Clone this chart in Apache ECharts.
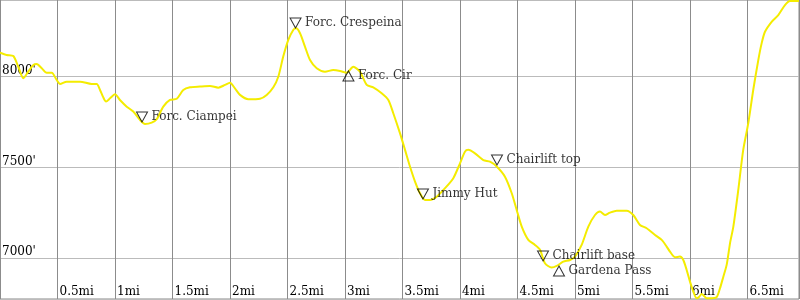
<!DOCTYPE html>
<html>
<head>
<meta charset="utf-8">
<script src="https://cdn.jsdelivr.net/npm/echarts@6/dist/echarts.min.js"></script>
<style>html,body{margin:0;padding:0;background:#fff}#c{width:800px;height:300px}</style>
</head>
<body>
<div id="c"></div>
<script>
// Track profile: distance (mi) and elevation (ft)
const miles = [0,0.058,0.116,0.159,0.203,0.246,0.290,0.319,0.363,0.406,0.450,0.493,0.522,0.580,0.696,0.797,0.841,0.870,0.896,0.922,0.957,1.000,1.043,1.102,1.159,1.217,1.261,1.319,1.363,1.420,1.478,1.537,1.594,1.652,1.739,1.826,1.898,1.957,2.000,2.043,2.087,2.159,2.261,2.319,2.377,2.420,2.463,2.507,2.550,2.574,2.609,2.652,2.696,2.754,2.826,2.898,2.957,3.015,3.072,3.130,3.189,3.246,3.319,3.377,3.420,3.478,3.522,3.565,3.609,3.652,3.696,3.739,3.797,3.870,3.942,4.000,4.043,4.072,4.130,4.203,4.261,4.319,4.391,4.450,4.493,4.537,4.594,4.652,4.696,4.739,4.797,4.841,4.898,4.957,5.000,5.058,5.116,5.174,5.217,5.261,5.304,5.363,5.450,5.507,5.565,5.623,5.696,5.754,5.797,5.826,5.870,5.913,5.942,5.971,6.000,6.029,6.058,6.081,6.102,6.122,6.145,6.189,6.232,6.261,6.290,6.319,6.348,6.377,6.420,6.463,6.507,6.550,6.594,6.623,6.652,6.710,6.768,6.826,6.870,6.948];
const elevation = [8133,8120,8114,8055,7992,8028,8065,8070,8047,8022,8022,7982,7960,7973,7973,7960,7960,7927,7889,7863,7881,7903,7872,7835,7808,7762,7740,7747,7766,7835,7872,7879,7927,7942,7946,7949,7940,7955,7967,7936,7900,7876,7879,7900,7942,8000,8111,8203,8258,8267,8240,8166,8092,8047,8028,8037,8032,8022,8055,8028,7955,7942,7909,7872,7799,7689,7597,7505,7422,7358,7321,7321,7339,7386,7441,7523,7587,7597,7578,7541,7532,7505,7449,7358,7266,7174,7101,7073,7046,6972,6948,6957,6981,6990,7009,7073,7174,7238,7257,7238,7251,7262,7262,7238,7183,7165,7128,7101,7064,7036,7005,7009,6990,6935,6871,6816,6779,6788,6803,6792,6779,6779,6785,6834,6898,6963,7082,7174,7376,7597,7744,7927,8092,8184,8248,8303,8340,8395,8417,8417];

// Waypoints
const wpNames = ['Forc. Ciampei','Forc. Crespeina','Forc. Cir','Jimmy Hut','Chairlift top','Chairlift base','Gardena Pass'];
const wpMiles = [1.235,2.570,3.030,3.678,4.322,4.722,4.861];
const wpElev  = [7751,8269,8032,7326,7514,6985,6957];
const wpDir   = ['down','down','up','down','down','down','up'];

// Axis settings
const xMin = 0, xMax = 6.948, xStep = 0.5;
const yMin = 6775, yMax = 8423;
const yTicks = [7000, 7500, 8000];

const font = "'DejaVu Serif', serif";
const track = miles.map((m, i) => [m, elevation[i]]);
const wpMarks = wpNames.map((n, i) => ({
  name: n,
  value: [wpMiles[i], wpElev[i]],
  symbolRotate: wpDir[i] === 'down' ? 180 : 0,
  symbolOffset: wpDir[i] === 'down' ? [0, -5] : [0, 5]
}));
const wpLabels = wpNames.map((n, i) => ({
  name: n,
  value: [wpMiles[i], wpElev[i]],
  label: { position: wpDir[i] === 'down' ? [10, -5] : [10, 5] }
}));

const chart = echarts.init(document.getElementById('c'), null, { renderer: 'canvas' });
chart.setOption({
  animation: false,
  grid: { left: 0, right: 1, top: 0, bottom: 1, containLabel: false, outerBoundsMode: 'none',
          show: true, borderColor: '#888', borderWidth: 1, backgroundColor: '#fff' },
  xAxis: {
    type: 'value', min: xMin, max: xMax, interval: xStep,
    axisLine: { show: false }, axisTick: { show: false },
    splitLine: { show: true, lineStyle: { color: '#8c8c8c', width: 1 } },
    axisLabel: {
      inside: true, margin: 1, align: 'left', verticalAlign: 'bottom',
      padding: [0, 0, 0, 2], color: '#000', fontFamily: font, fontSize: 12,
      formatter: v => (v > 0 && v < xMax && Math.abs(v * 2 - Math.round(v * 2)) < 1e-6) ? (v + 'mi') : ''
    }
  },
  yAxis: {
    type: 'value', min: yMin, max: yMax, splitNumber: 3,
    axisLine: { show: false }, axisTick: { show: false },
    splitLine: { show: true, lineStyle: { color: '#bbb', width: 1 } },
    axisLabel: {
      inside: true, margin: 2, align: 'left', verticalAlign: 'bottom',
      color: '#000', fontFamily: font, fontSize: 12,
      formatter: v => yTicks.indexOf(v) >= 0 ? (v + "'") : ''
    }
  },
  series: [
    {
      type: 'line', data: track, showSymbol: false, symbol: 'none', smooth: 0.25,
      lineStyle: { color: '#f4ec00', width: 2 }, clip: true, z: 2
    },
    {
      type: 'scatter', data: wpMarks, symbol: 'triangle', symbolSize: [11, 10],
      itemStyle: { color: 'rgba(255,255,255,0)', borderColor: '#000', borderWidth: 1 },
      z: 3, silent: true
    },
    {
      type: 'scatter', data: wpLabels, symbol: 'circle', symbolSize: 1,
      itemStyle: { color: 'rgba(0,0,0,0)' }, z: 4, silent: true,
      label: { show: true, formatter: '{b}', align: 'left', verticalAlign: 'middle', color: '#000', fontFamily: font, fontSize: 12 }
    }
  ]
});
</script>
</body>
</html>
